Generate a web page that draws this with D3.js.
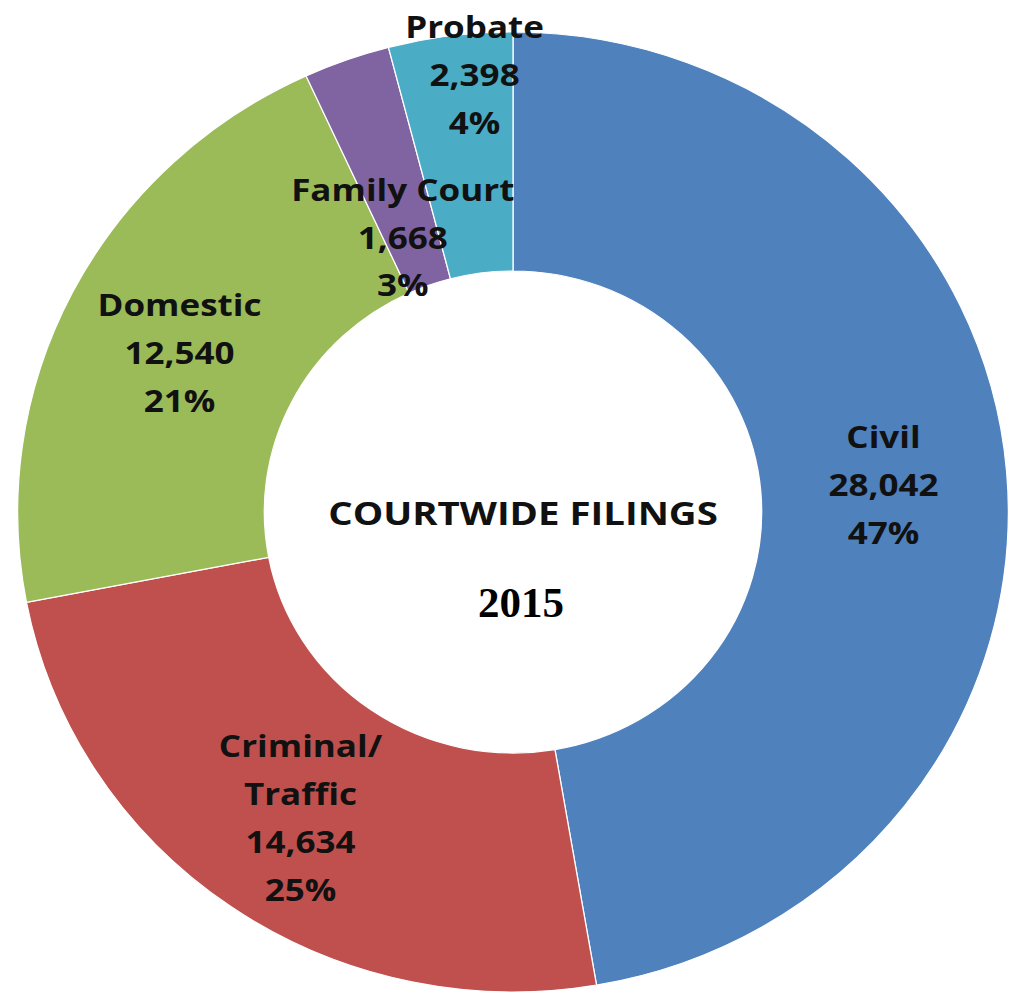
<!DOCTYPE html>
<html lang="en">
<head>
<meta charset="UTF-8">
<title>Courtwide Filings 2015</title>
<script src="https://d3js.org/d3.v7.min.js"></script>
<style>
  body { margin: 0; background: #fff; }
  .lbl { font-family: "Open Sans", sans-serif; font-weight: 700; font-size: 31px; fill: #111; }
</style>
</head>
<body>
<svg id="chart" width="1009" height="995"></svg>
<script>
// data, clockwise from 12 o'clock
var categories = ["Civil", "Criminal/\nTraffic", "Domestic", "Family Court", "Probate"];
var filings    = [28042, 14634, 12540, 1668, 2398];
var percents   = ["47%", "25%", "21%", "3%", "4%"];
var colors     = ["#4f81bd", "#c0504d", "#9bbb59", "#8064a2", "#4bacc6"];

var cx = 513, cy = 512;
var outerR = 480, innerR = 241;
var sx = 1.032; // the original is a little wider than tall

// label nudges where the original labels were moved by hand
var nudge = [[-10, 4], [5, 2], [6, 10], [18, 74], [10, -70]];

var svg = d3.select("#chart");

var pie = d3.pie().sort(null).value(function(d) { return d; });
var arcs = pie(filings);

var arc = d3.arc().innerRadius(innerR).outerRadius(outerR);
var labelArc = d3.arc().innerRadius(370).outerRadius(370);

// slices
svg.append("g")
  .attr("transform", "translate(" + cx + "," + cy + ") scale(" + sx + ",1)")
  .selectAll("path").data(arcs).enter().append("path")
  .attr("d", arc)
  .attr("fill", function(d, i) { return colors[i]; })
  .attr("stroke", "#fff")
  .attr("stroke-width", 1.2);

// slice labels
var lineH = 48;
var labels = svg.append("g").selectAll("text").data(arcs).enter().append("text")
  .attr("class", "lbl")
  .attr("text-anchor", "middle")
  .attr("transform", function(d, i) {
    var c = labelArc.centroid(d);
    return "translate(" + (cx + c[0] * sx + nudge[i][0]) + "," + (cy + c[1] + nudge[i][1]) + ") scale(1.13,1)";
  });

labels.each(function(d, i) {
  var lines = categories[i].split("\n").concat([d3.format(",")(filings[i]), percents[i]]);
  var t = d3.select(this);
  var y0 = -(lines.length - 1) * lineH / 2 + 11;
  lines.forEach(function(s, k) {
    t.append("tspan").attr("x", 0).attr("y", y0 + k * lineH).text(s);
  });
});

// centre title
svg.append("text")
  .attr("transform", "translate(523,525) scale(1.2,1)")
  .attr("text-anchor", "middle")
  .style("font-family", "'Open Sans', sans-serif")
  .style("font-weight", 700)
  .style("font-size", "32px")
  .style("fill", "#111")
  .text("COURTWIDE FILINGS");

svg.append("text")
  .attr("x", 521).attr("y", 617)
  .attr("text-anchor", "middle")
  .style("font-family", "'Liberation Serif', serif")
  .style("font-weight", 700)
  .style("font-size", "43px")
  .style("fill", "#000")
  .text("2015");
</script>
</body>
</html>
